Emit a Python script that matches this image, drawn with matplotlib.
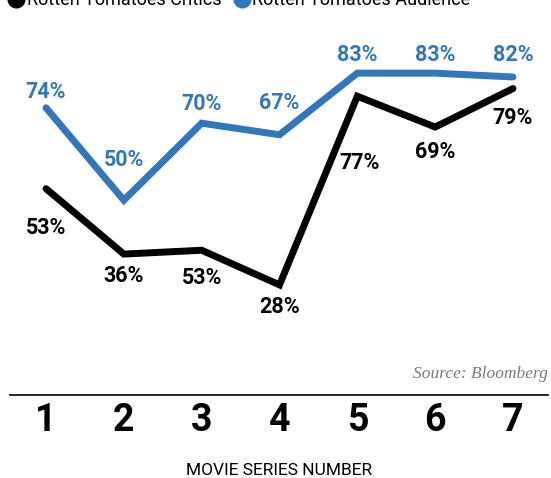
import matplotlib
matplotlib.use("Agg")
import matplotlib.pyplot as plt
from matplotlib.lines import Line2D

# data
movies = [1, 2, 3, 4, 5, 6, 7]
critics = [53, 36, 37, 28, 77, 69, 79]
critics_labels = ["53%", "36%", "53%", "28%", "77%", "69%", "79%"]
audience = [74, 50, 70, 67, 83, 83, 82]
audience_labels = ["74%", "50%", "70%", "67%", "83%", "83%", "82%"]

BLUE = "#3277bc"
FONT = "Roboto"

# label offsets in pixels (dy, positive = up)
aud_off = [16, 40, 19, 32, 18, 18, 22]
crit_off = [-39, -22, -28, -22, -67, -25, -29]
crit_dx = [0, 0, 0, 0, 2, 0, 0]

fig = plt.figure(figsize=(5.51, 4.78), dpi=100)
ax = fig.add_axes([10 / 551, 83 / 478, 538 / 551, 375 / 478])

ax.plot(movies, audience, color=BLUE, lw=5, solid_capstyle="round",
        solid_joinstyle="miter")
ax.plot(movies, critics, color="black", lw=5, solid_capstyle="round",
        solid_joinstyle="miter")

px = 72 / 100
for x, y, t, d in zip(movies, audience, audience_labels, aud_off):
    ax.annotate(t, (x, y), xytext=(0, d * px), textcoords="offset points",
                ha="center", va="center", color=BLUE, fontsize=15.5,
                fontweight="bold", family=FONT)
for x, y, t, d, dx in zip(movies, critics, critics_labels, crit_off, crit_dx):
    ax.annotate(t, (x, y), xytext=(dx * px, d * px), textcoords="offset points",
                ha="center", va="center", color="black", fontsize=15.5,
                fontweight="bold", family=FONT)

ax.set_xlim(1 - 36 / 77.8, 7 + 35 / 77.8)
ax.set_ylim(-0.6, -0.6 + 375 / 3.85)
ax.set_xticks(movies)
ax.set_xticklabels([str(m) for m in movies], fontsize=27, fontweight="bold",
                   family=FONT)
ax.set_yticks([])
ax.tick_params(axis="x", length=0, pad=5)
for s in ["top", "left", "right"]:
    ax.spines[s].set_visible(False)
ax.spines["bottom"].set_linewidth(1.2)

ax.set_xlabel("MOVIE SERIES NUMBER", fontsize=12.5, family=FONT, labelpad=17)

ax.text(1.0, 0.035, "Source: Bloomberg", transform=ax.transAxes, ha="right",
        va="bottom", fontsize=12.5, style="italic", color="#7a7a7a",
        family="Liberation Serif")

handles = [
    Line2D([], [], marker="o", ls="", color="black", markersize=12),
    Line2D([], [], marker="o", ls="", color=BLUE, markersize=12),
]
leg = fig.legend(handles, ["Rotten Tomatoes Critics", "Rotten Tomatoes Audience"],
                 loc="center left", bbox_to_anchor=(0.0, 1.0), ncol=2,
                 frameon=False, handletextpad=0.1, columnspacing=0.6,
                 handlelength=1.0, borderaxespad=0,
                 prop={"family": FONT, "size": 13})

fig.savefig("out.png", dpi=100)
